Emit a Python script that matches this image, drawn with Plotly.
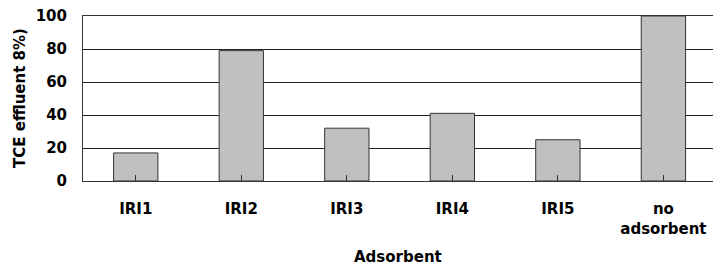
import plotly.graph_objects as go

categories = ["IRI1", "IRI2", "IRI3", "IRI4", "IRI5", "no<br>adsorbent"]
values = [17, 79, 32, 41, 25, 100]
y_ticks = [0, 20, 40, 60, 80, 100]
x_title = "Adsorbent"
y_title = "TCE effluent 8%)"

font_family = "DejaVu Sans, sans-serif"

fig = go.Figure(
    go.Bar(
        x=list(range(len(categories))),
        y=values,
        marker=dict(color="#c0c0c0", line=dict(color="#333333", width=1)),
        width=0.42,
    )
)

fig.update_layout(
    width=713,
    height=268,
    margin=dict(l=83, r=0, t=16, b=87),
    paper_bgcolor="white",
    plot_bgcolor="white",
    showlegend=False,
    font=dict(family=font_family, size=15, color="black"),
    annotations=[
        dict(text="<b>%s</b>" % x_title, xref="paper", yref="paper",
             x=(398 - 83) / 630, y=-(257 - 181) / 165, showarrow=False,
             xanchor="center", yanchor="middle", font=dict(size=15)),
        dict(text="<b>%s</b>" % y_title, xref="paper", yref="paper",
             x=-(83 - 20) / 630, y=(181 - 98) / 165, showarrow=False,
             textangle=-90, xanchor="center", yanchor="middle", font=dict(size=15)),
    ],
)

fig.update_xaxes(
    range=[-0.5, 5.47],
    automargin=False,
    tickmode="array",
    tickvals=list(range(len(categories))),
    ticktext=["<b>%s</b>" % c for c in categories],
    tickson="boundaries",
    ticks="inside",
    ticklen=6,
    tickcolor="#333333",
    showline=True,
    mirror=True,
    linecolor="#333333",
    linewidth=1,
    showgrid=False,
    tickfont=dict(size=15),
    ticklabelstandoff=14,
)

fig.update_yaxes(
    range=[0, 100],
    automargin=False,
    tickmode="array",
    tickvals=y_ticks,
    ticktext=["<b>%d</b>" % v for v in y_ticks],
    showline=True,
    linecolor="#333333",
    linewidth=1,
    showgrid=True,
    gridcolor="#222222",
    gridwidth=1,
    ticks="",
    ticklabelstandoff=12,
    tickfont=dict(size=15),
    zeroline=False,
)

fig.write_html("out.html", config={"displayModeBar": False},
               post_script="document.body.style.margin='0';")
